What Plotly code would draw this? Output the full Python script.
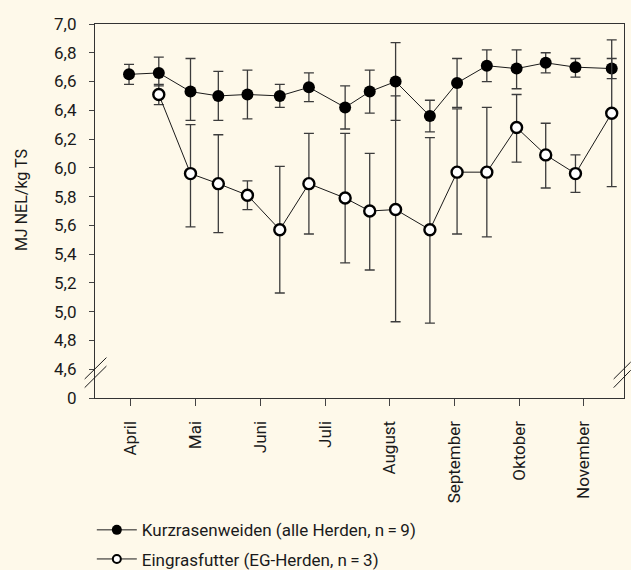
import plotly.graph_objects as go

# x position in months (0 = April tick, 1 = Mai, ...)
sample_month = [-0.03, 0.43, 0.92, 1.35, 1.80, 2.30, 2.75, 3.31, 3.69, 4.09,
                4.62, 5.04, 5.50, 5.96, 6.41, 6.87, 7.43]

# Kurzrasenweiden (alle Herden, n = 9)
krw_mean = [6.65, 6.66, 6.53, 6.50, 6.51, 6.50, 6.56, 6.42, 6.53, 6.60,
            6.36, 6.59, 6.71, 6.69, 6.73, 6.70, 6.69]
krw_plus = [0.07, 0.11, 0.23, 0.17, 0.17, 0.08, 0.10, 0.15, 0.15, 0.27,
            0.11, 0.17, 0.11, 0.13, 0.07, 0.06, 0.07]
krw_minus = [0.07, 0.09, 0.20, 0.17, 0.17, 0.08, 0.10, 0.15, 0.15, 0.27,
             0.11, 0.17, 0.11, 0.14, 0.07, 0.07, 0.07]

# Eingrasfutter (EG-Herden, n = 3)
eg_month = sample_month[1:]
eg_mean = [6.51, 5.96, 5.89, 5.81, 5.57, 5.89, 5.79, 5.70, 5.71, 5.57,
           5.97, 5.97, 6.28, 6.09, 5.96, 6.38]
eg_plus = [0.07, 0.34, 0.34, 0.10, 0.44, 0.35, 0.45, 0.40, 0.79, 0.64,
           0.44, 0.45, 0.23, 0.22, 0.13, 0.51]
eg_minus = [0.07, 0.37, 0.34, 0.10, 0.44, 0.35, 0.45, 0.41, 0.78, 0.65,
            0.43, 0.45, 0.24, 0.23, 0.13, 0.51]

months = ["April", "Mai", "Juni", "Juli", "August", "September", "Oktober", "November"]
y_ticks = [4.4, 4.6, 4.8, 5.0, 5.2, 5.4, 5.6, 5.8, 6.0, 6.2, 6.4, 6.6, 6.8, 7.0]
y_ticktext = ["0", "4,6", "4,8", "5,0", "5,2", "5,4", "5,6", "5,8", "6,0",
              "6,2", "6,4", "6,6", "6,8", "7,0"]

names = ["Kurzrasenweiden (alle Herden, n\u2009=\u20099)",
         "Eingrasfutter (EG-Herden, n\u2009=\u20093)"]

BG = "#fef9ea"
INK = "#1a1a1a"
ERR = "#3c3c3c"
FONT = "Roboto"
FS = 17

fig = go.Figure()
fig.add_trace(go.Scatter(
    x=sample_month, y=krw_mean, mode="lines+markers", showlegend=False,
    line=dict(color=INK, width=1),
    marker=dict(symbol="circle", size=12, color="black"),
    error_y=dict(type="data", symmetric=False, array=krw_plus, arrayminus=krw_minus,
                 color=ERR, thickness=1.3, width=5),
))
fig.add_trace(go.Scatter(
    x=eg_month, y=eg_mean, mode="lines+markers", showlegend=False,
    line=dict(color=INK, width=1),
    marker=dict(symbol="circle", size=11, color="white", line=dict(color="black", width=2.4)),
    error_y=dict(type="data", symmetric=False, array=eg_plus, arrayminus=eg_minus,
                 color=ERR, thickness=1.3, width=5),
))
# legend entries (smaller symbols as in the original legend)
fig.add_trace(go.Scatter(
    x=[None], y=[None], mode="lines+markers", name=names[0], legendgroup="a",
    line=dict(color=INK, width=1), marker=dict(symbol="circle", size=10, color="black"),
))
fig.add_trace(go.Scatter(
    x=[None], y=[None], mode="lines+markers", name=names[1], legendgroup="b",
    line=dict(color=INK, width=1),
    marker=dict(symbol="circle", size=8, color="white", line=dict(color="black", width=2)),
))

# axis break marks (double slashes)
for (xp0, xp1), segs in [((-0.0195, 0.0216), [(4.532, 4.681), (4.472, 4.622)]),
                          ((0.9805, 1.0127), [(4.532, 4.65), (4.472, 4.593)])]:
    for y0, y1 in segs:
        fig.add_shape(type="line", xref="paper", yref="y",
                      x0=xp0, x1=xp1, y0=y0, y1=y1,
                      line=dict(color=INK, width=1), layer="above")

fig.add_annotation(text="MJ NEL/kg TS", xref="paper", yref="paper",
                   x=-0.14, y=0.529, textangle=-90, showarrow=False,
                   xanchor="center", yanchor="middle", font=dict(size=16))

fig.update_layout(
    width=631, height=570,
    paper_bgcolor=BG, plot_bgcolor=BG,
    margin=dict(l=95, r=7, t=24, b=172, autoexpand=False),
    font=dict(family=FONT, size=FS, color=INK),
    showlegend=True,
    legend=dict(x=-0.006, y=-0.3056, xanchor="left", yanchor="top",
                bgcolor="rgba(0,0,0,0)", font=dict(size=FS), tracegroupgap=4,
                itemwidth=40, traceorder="grouped"),
)
fig.update_xaxes(
    range=[-0.556, 7.62], tickmode="array", tickvals=list(range(8)), ticktext=months,
    tickangle=-90, ticks="outside", ticklen=7, tickcolor="#444", ticklabelstandoff=8,
    showline=True, linecolor="#333", linewidth=1.2, mirror=True, automargin=False,
    showgrid=False, zeroline=False, tickfont=dict(size=FS),
)
fig.update_yaxes(
    range=[4.4, 7.0], tickmode="array", tickvals=y_ticks, ticktext=y_ticktext,
    ticks="outside", ticklen=5, tickcolor="#444", ticklabelstandoff=9,
    showline=True, linecolor="#333", linewidth=1.2, mirror=True, automargin=False,
    showgrid=False, zeroline=False, tickfont=dict(size=FS),
)

fig.write_html(
    "out.html",
    config={"displayModeBar": False},
    post_script="document.body.style.margin='0';document.body.style.background='%s';" % BG,
)
